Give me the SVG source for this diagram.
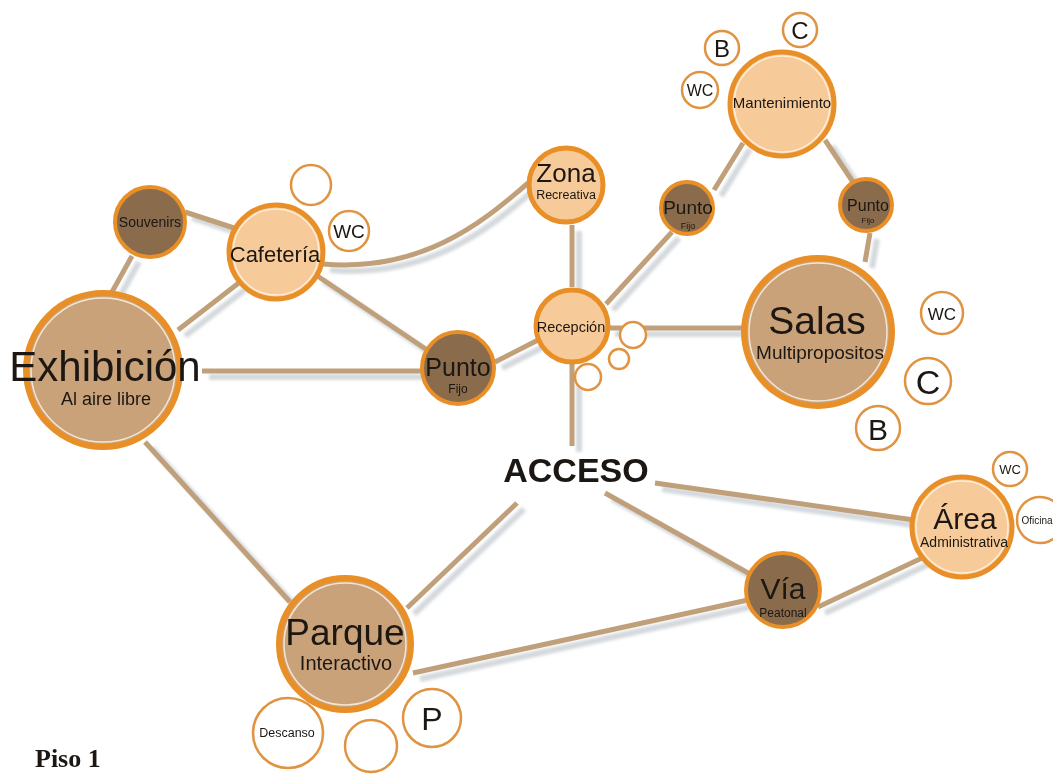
<svg xmlns="http://www.w3.org/2000/svg" width="1053" height="774" viewBox="0 0 1053 774">
<style>
text{font-family:"Liberation Sans","DejaVu Sans",sans-serif;fill:#1c1712;text-anchor:middle}
.ln{fill:none;stroke:#c0a07a;stroke-width:5;stroke-linecap:butt}
.sh{fill:none;stroke:#cdd1d6;stroke-width:6;opacity:.85}
.peach{fill:#f7ca99;stroke:#e98f28;stroke-width:5}
.tan{fill:#c9a27a;stroke:#e98f28;stroke-width:6}
.dark{fill:#8a6c4d;stroke:#e98f28;stroke-width:4}
.hl{fill:none;stroke:#fff6ea;stroke-width:1.5;opacity:.8}
.sm{fill:#fff;stroke:#e09340;stroke-width:2.5}
</style>
<defs>
<filter id="blur" x="-10%" y="-10%" width="120%" height="120%"><feGaussianBlur stdDeviation="1.5"/></filter>
</defs>
<rect width="1053" height="774" fill="#fff"/>
<g id="connectors">
<g filter="url(#blur)" transform="translate(7,6)">
<line class="sh" x1="132" y1="256" x2="112" y2="292"/>
<line class="sh" x1="185" y1="212" x2="234" y2="228"/>
<line class="sh" x1="240" y1="282" x2="178" y2="330"/>
<line class="sh" x1="316" y1="275" x2="430" y2="352"/>
<line class="sh" x1="202" y1="371" x2="422" y2="371"/>
<path class="sh" d="M323,264 C420,272 480,225 528,183"/>
<line class="sh" x1="495" y1="362" x2="538" y2="340"/>
<line class="sh" x1="572" y1="225" x2="572" y2="287"/>
<line class="sh" x1="606" y1="304" x2="672" y2="232"/>
<line class="sh" x1="714" y1="190" x2="743" y2="143"/>
<line class="sh" x1="825" y1="140" x2="853" y2="182"/>
<line class="sh" x1="870" y1="233" x2="865" y2="262"/>
<line class="sh" x1="608" y1="328" x2="745" y2="328"/>
<line class="sh" x1="572" y1="364" x2="572" y2="446"/>
<line class="sh" x1="655" y1="483" x2="914" y2="520"/>
<line class="sh" x1="605" y1="493" x2="757" y2="578"/>
<line class="sh" x1="517" y1="503" x2="407" y2="608"/>
<line class="sh" x1="145" y1="442" x2="290" y2="602"/>
<line class="sh" x1="413" y1="673" x2="748" y2="600"/>
<line class="sh" x1="818" y1="607" x2="922" y2="558"/>
</g>
<line class="ln" x1="132" y1="256" x2="112" y2="292"/>
<line class="ln" x1="185" y1="212" x2="234" y2="228"/>
<line class="ln" x1="240" y1="282" x2="178" y2="330"/>
<line class="ln" x1="316" y1="275" x2="430" y2="352"/>
<line class="ln" x1="202" y1="371" x2="422" y2="371"/>
<path class="ln" d="M323,264 C420,272 480,225 528,183"/>
<line class="ln" x1="495" y1="362" x2="538" y2="340"/>
<line class="ln" x1="572" y1="225" x2="572" y2="287"/>
<line class="ln" x1="606" y1="304" x2="672" y2="232"/>
<line class="ln" x1="714" y1="190" x2="743" y2="143"/>
<line class="ln" x1="825" y1="140" x2="853" y2="182"/>
<line class="ln" x1="870" y1="233" x2="865" y2="262"/>
<line class="ln" x1="608" y1="328" x2="745" y2="328"/>
<line class="ln" x1="572" y1="364" x2="572" y2="446"/>
<line class="ln" x1="655" y1="483" x2="914" y2="520"/>
<line class="ln" x1="605" y1="493" x2="757" y2="578"/>
<line class="ln" x1="517" y1="503" x2="407" y2="608"/>
<line class="ln" x1="145" y1="442" x2="290" y2="602"/>
<line class="ln" x1="413" y1="673" x2="748" y2="600"/>
<line class="ln" x1="818" y1="607" x2="922" y2="558"/>
</g>
<g id="exhibicion">
<circle class="tan" cx="103" cy="370" r="77"/>
<circle class="hl" cx="103" cy="370" r="72"/>
<text x="105" y="381" font-size="42">Exhibición</text>
<text x="106" y="405" font-size="18">Al aire libre</text>
</g>
<g id="souvenirs">
<circle class="dark" cx="150" cy="222" r="35"/>
<text x="150" y="227" font-size="14">Souvenirs</text>
</g>
<g id="cafeteria">
<circle class="peach" cx="276" cy="252" r="47"/>
<circle class="hl" cx="276" cy="252" r="43"/>
<text x="275" y="262" font-size="22">Cafetería</text>
</g>
<g id="cafeteria-extra">
<circle class="sm" cx="311" cy="185" r="20"/>
<circle class="sm" cx="349" cy="231" r="20"/>
<text x="349" y="238" font-size="19">WC</text>
</g>
<g id="punto-fijo-1">
<circle class="dark" cx="458" cy="368" r="36"/>
<text x="458" y="376" font-size="25">Punto</text>
<text x="458" y="393" font-size="12">Fijo</text>
</g>
<g id="zona">
<circle class="peach" cx="566" cy="185" r="37"/>
<text x="566" y="182" font-size="26">Zona</text>
<text x="566" y="199" font-size="12.5">Recreativa</text>
</g>
<g id="recepcion">
<circle class="peach" cx="572" cy="326" r="36"/>
<text x="571" y="332" font-size="14.5">Recepción</text>
</g>
<g id="recepcion-extra">
<circle class="sm" cx="633" cy="335" r="13" stroke-width="1.8"/>
<circle class="sm" cx="619" cy="359" r="10" stroke-width="1.8"/>
<circle class="sm" cx="588" cy="377" r="13" stroke-width="1.8"/>
</g>
<g id="punto-fijo-2">
<circle class="dark" cx="687" cy="208" r="26"/>
<text x="688" y="214" font-size="19">Punto</text>
<text x="688" y="229" font-size="9">Fijo</text>
</g>
<g id="mantenimiento">
<circle class="peach" cx="782" cy="104" r="52"/>
<circle class="hl" cx="782" cy="104" r="48"/>
<text x="782" y="108" font-size="15">Mantenimiento</text>
</g>
<g id="mantenimiento-extra">
<circle class="sm" cx="722" cy="48" r="17"/>
<text x="722" y="57" font-size="24">B</text>
<circle class="sm" cx="800" cy="30" r="17"/>
<text x="800" y="39" font-size="24">C</text>
<circle class="sm" cx="700" cy="90" r="18"/>
<text x="700" y="96" font-size="16">WC</text>
</g>
<g id="punto-fijo-3">
<circle class="dark" cx="866" cy="205" r="26"/>
<text x="868" y="211" font-size="16">Punto</text>
<text x="868" y="223" font-size="8">Fijo</text>
</g>
<g id="salas">
<circle class="tan" cx="818" cy="332" r="74"/>
<circle class="hl" cx="818" cy="332" r="69"/>
<text x="817" y="334" font-size="39">Salas</text>
<text x="820" y="359" font-size="19">Multipropositos</text>
</g>
<g id="salas-extra">
<circle class="sm" cx="942" cy="313" r="21"/>
<text x="942" y="320" font-size="17">WC</text>
<circle class="sm" cx="928" cy="381" r="23"/>
<text x="928" y="394" font-size="34">C</text>
<circle class="sm" cx="878" cy="428" r="22"/>
<text x="878" y="440" font-size="30">B</text>
</g>
<g id="acceso">
<text x="576" y="482" font-size="34" font-weight="bold" fill="#000">ACCESO</text>
</g>
<g id="area">
<circle class="peach" cx="962" cy="527" r="50"/>
<circle class="hl" cx="962" cy="527" r="46"/>
<text x="965" y="529" font-size="30">Área</text>
<text x="964" y="547" font-size="14">Administrativa</text>
</g>
<g id="area-extra">
<circle class="sm" cx="1010" cy="469" r="17" stroke-width="2"/>
<text x="1010" y="474" font-size="13">WC</text>
<circle class="sm" cx="1040" cy="520" r="23" stroke-width="2"/>
<text x="1037" y="524" font-size="10">Oficina</text>
</g>
<g id="via">
<circle class="dark" cx="783" cy="590" r="37"/>
<text x="783" y="599" font-size="30">Vía</text>
<text x="783" y="617" font-size="12">Peatonal</text>
</g>
<g id="parque">
<circle class="tan" cx="345" cy="644" r="66"/>
<circle class="hl" cx="345" cy="644" r="61"/>
<text x="345" y="645" font-size="37">Parque</text>
<text x="346" y="670" font-size="20">Interactivo</text>
</g>
<g id="parque-extra">
<circle class="sm" cx="288" cy="733" r="35"/>
<text x="287" y="737" font-size="12.5">Descanso</text>
<circle class="sm" cx="371" cy="746" r="26"/>
<circle class="sm" cx="432" cy="718" r="29"/>
<text x="432" y="730" font-size="32">P</text>
</g>
<text x="35" y="767" font-size="26" font-weight="bold" style="font-family:'Liberation Serif','Times New Roman',serif;text-anchor:start" fill="#000">Piso 1</text>
</svg>
